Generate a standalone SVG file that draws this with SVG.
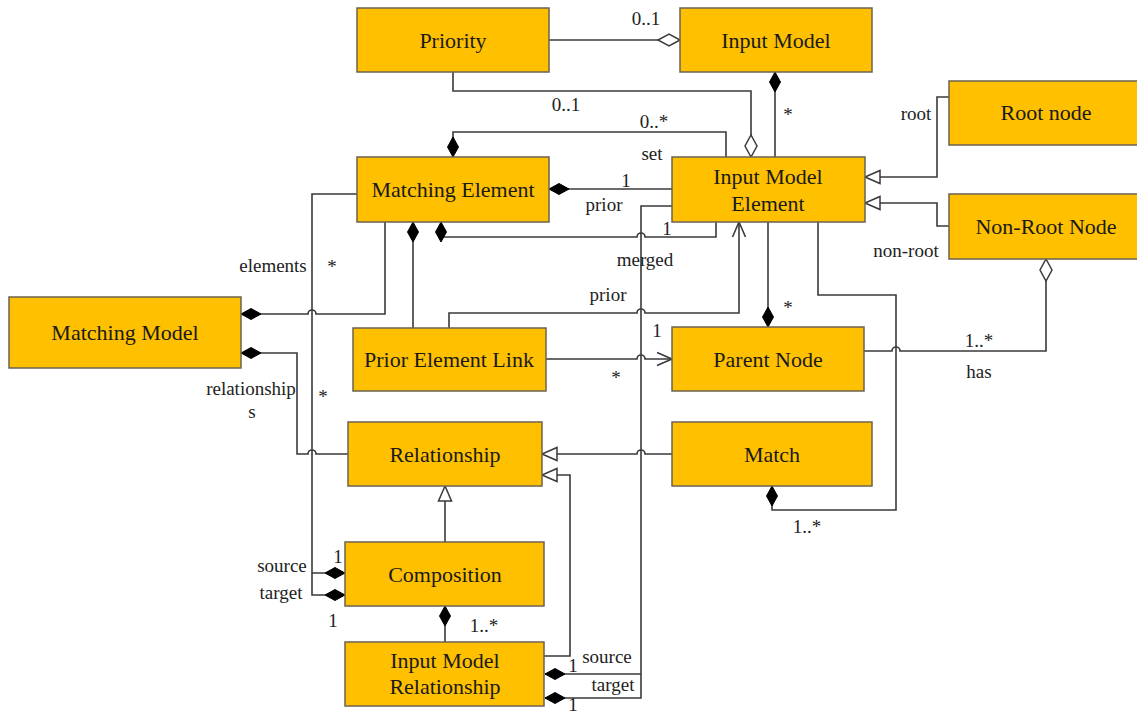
<svg xmlns="http://www.w3.org/2000/svg" width="1137" height="716" viewBox="0 0 1137 716">
  <defs>
    <style>
      .box { fill: #FFC000; stroke: #6b6250; stroke-width: 1.5; }
      .name { font-family: "Liberation Serif", "Times New Roman", serif; font-size: 22px; fill: #1a1a1a; text-anchor: middle; }
      .lbl { font-family: "Liberation Serif", "Times New Roman", serif; font-size: 19px; fill: #222; text-anchor: middle; }
      .conn { fill: none; stroke: #3a3a3a; stroke-width: 1.6; }
    </style>
    <!-- composition: filled diamond at the owning end -->
    <marker id="dFill" markerUnits="userSpaceOnUse" orient="auto" refX="0" refY="0" markerWidth="22" markerHeight="12" overflow="visible">
      <path d="M0,0 L10,-5.5 L20,0 L10,5.5 Z" fill="#000" stroke="#000" stroke-width="1"/>
    </marker>
    <!-- aggregation: hollow diamond -->
    <marker id="dOpen" markerUnits="userSpaceOnUse" orient="auto" refX="0" refY="0" markerWidth="22" markerHeight="12" overflow="visible">
      <path d="M0,0 L11,-6 L22,0 L11,6 Z" fill="#fff" stroke="#3a3a3a" stroke-width="1.5"/>
    </marker>
    <!-- generalization: hollow triangle -->
    <marker id="tri" markerUnits="userSpaceOnUse" orient="auto" refX="0" refY="0" markerWidth="16" markerHeight="14" overflow="visible">
      <path d="M0,0 L-15,-6.5 L-15,6.5 Z" fill="#fff" stroke="#3a3a3a" stroke-width="1.5"/>
    </marker>
    <!-- navigable association: open arrow -->
    <marker id="arr" markerUnits="userSpaceOnUse" orient="auto" refX="0" refY="0" markerWidth="16" markerHeight="14" overflow="visible">
      <path d="M-15,-6.5 L0,0 L-15,6.5" fill="none" stroke="#3a3a3a" stroke-width="1.6"/>
    </marker>
  </defs>

  <rect width="1137" height="716" fill="#fff"/>

  <g id="connectors">
    <path class="conn" d="M680,40 H549" marker-start="url(#dOpen)"/>
    <path class="conn" d="M751,157 V91 H453 V72" marker-start="url(#dOpen)"/>
    <path class="conn" d="M775,72 V157" marker-start="url(#dFill)"/>
    <path class="conn" d="M453,157 V132 H726 V157" marker-start="url(#dFill)"/>
    <path class="conn" d="M549,189 H672" marker-start="url(#dFill)"/>
    <path class="conn" d="M441,222 V237 H637 a4,4 0 0 1 8,0 H716 V222" marker-start="url(#dFill)"/>
    <path class="conn" d="M545,674 H641" marker-start="url(#dFill)"/>
    <path class="conn" d="M545,698 H641 V206 H672" marker-start="url(#dFill)"/>
    <path class="conn" d="M768,327 V222" marker-start="url(#dFill)"/>
    <path class="conn" d="M772,486 V510 H896 V295 H818 V222" marker-start="url(#dFill)"/>
    <path class="conn" d="M1046,259 V351 H900 a4,4 0 0 0 -8,0 H864" marker-start="url(#dOpen)"/>
    <path class="conn" d="M949,97 H937 V177 H865" marker-end="url(#tri)"/>
    <path class="conn" d="M949,226 H937 V203 H865" marker-end="url(#tri)"/>
    <path class="conn" d="M345,573 H312" marker-start="url(#dFill)"/>
    <path class="conn" d="M345,595 H312 V194 H357" marker-start="url(#dFill)"/>
    <path class="conn" d="M241,314 H308 a4,4 0 0 1 8,0 H385 V222" marker-start="url(#dFill)"/>
    <path class="conn" d="M241,353 H297 V454 H308 a4,4 0 0 1 8,0 H348" marker-start="url(#dFill)"/>
    <path class="conn" d="M413,222 V328" marker-start="url(#dFill)"/>
    <path class="conn" d="M449,328 V313 H637 a4,4 0 0 1 8,0 H739 V222" marker-end="url(#arr)"/>
    <path class="conn" d="M546,359 H637 a4,4 0 0 1 8,0 H672" marker-end="url(#arr)"/>
    <path class="conn" d="M672,454 H645 a4,4 0 0 0 -8,0 H542" marker-end="url(#tri)"/>
    <path class="conn" d="M544,656 H570 V475 H542" marker-end="url(#tri)"/>
    <path class="conn" d="M445,542 V486" marker-end="url(#tri)"/>
    <path class="conn" d="M445,606 V642" marker-start="url(#dFill)"/>
  </g>

  <g id="labels">
    <text class="lbl" x="646" y="25">0..1</text>
    <text class="lbl" x="566" y="111">0..1</text>
    <text class="lbl" x="788" y="121">*</text>
    <text class="lbl" x="654" y="128">0..*</text>
    <text class="lbl" x="652" y="160">set</text>
    <text class="lbl" x="626" y="187">1</text>
    <text class="lbl" x="604" y="211">prior</text>
    <text class="lbl" x="667" y="235">1</text>
    <text class="lbl" x="645" y="266">merged</text>
    <text class="lbl" x="608" y="301">prior</text>
    <text class="lbl" x="657" y="337">1</text>
    <text class="lbl" x="616" y="384">*</text>
    <text class="lbl" x="788" y="314">*</text>
    <text class="lbl" x="916" y="120">root</text>
    <text class="lbl" x="906" y="257">non-root</text>
    <text class="lbl" x="979" y="347">1..*</text>
    <text class="lbl" x="979" y="378">has</text>
    <text class="lbl" x="807" y="533">1..*</text>
    <text class="lbl" x="273" y="272">elements</text>
    <text class="lbl" x="332" y="273">*</text>
    <text class="lbl" x="251" y="395">relationship</text>
    <text class="lbl" x="252" y="418">s</text>
    <text class="lbl" x="323" y="403">*</text>
    <text class="lbl" x="282" y="572">source</text>
    <text class="lbl" x="281" y="599">target</text>
    <text class="lbl" x="338" y="563">1</text>
    <text class="lbl" x="333" y="627">1</text>
    <text class="lbl" x="484" y="632">1..*</text>
    <text class="lbl" x="573" y="672">1</text>
    <text class="lbl" x="607" y="663">source</text>
    <text class="lbl" x="613" y="691">target</text>
    <text class="lbl" x="573" y="711">1</text>
  </g>

  <g id="priority">
    <rect class="box" x="357" y="8" width="192" height="64"/>
    <text class="name" x="453" y="48">Priority</text>
  </g>
  <g id="input-model">
    <rect class="box" x="680" y="8" width="192" height="64"/>
    <text class="name" x="776" y="48">Input Model</text>
  </g>
  <g id="root-node">
    <rect class="box" x="949" y="81" width="190" height="64"/>
    <text class="name" x="1046" y="120">Root node</text>
  </g>
  <g id="non-root-node">
    <rect class="box" x="949" y="194" width="190" height="65"/>
    <text class="name" x="1046" y="234">Non-Root Node</text>
  </g>
  <g id="input-model-element">
    <rect class="box" x="672" y="157" width="193" height="65"/>
    <text class="name" x="768" y="184">Input Model</text>
    <text class="name" x="768" y="211">Element</text>
  </g>
  <g id="matching-element">
    <rect class="box" x="357" y="157" width="192" height="65"/>
    <text class="name" x="453" y="197">Matching Element</text>
  </g>
  <g id="matching-model">
    <rect class="box" x="9" y="297" width="232" height="71"/>
    <text class="name" x="125" y="340">Matching Model</text>
  </g>
  <g id="prior-element-link">
    <rect class="box" x="353" y="328" width="193" height="63"/>
    <text class="name" x="449" y="367">Prior Element Link</text>
  </g>
  <g id="parent-node">
    <rect class="box" x="672" y="327" width="192" height="64"/>
    <text class="name" x="768" y="367">Parent Node</text>
  </g>
  <g id="relationship">
    <rect class="box" x="348" y="422" width="194" height="64"/>
    <text class="name" x="445" y="462">Relationship</text>
  </g>
  <g id="match">
    <rect class="box" x="672" y="422" width="200" height="64"/>
    <text class="name" x="772" y="462">Match</text>
  </g>
  <g id="composition">
    <rect class="box" x="345" y="542" width="199" height="64"/>
    <text class="name" x="445" y="582">Composition</text>
  </g>
  <g id="input-model-relationship">
    <rect class="box" x="345" y="642" width="199" height="64"/>
    <text class="name" x="445" y="668">Input Model</text>
    <text class="name" x="445" y="694">Relationship</text>
  </g>
</svg>
